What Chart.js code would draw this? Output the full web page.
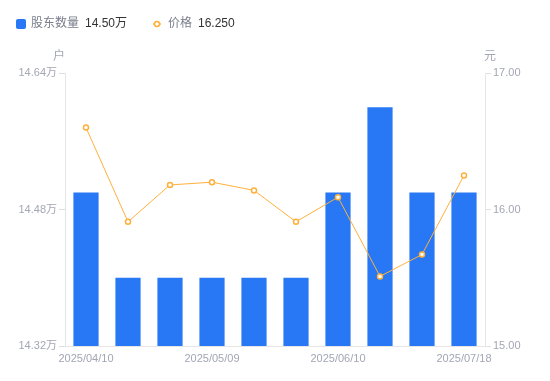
<!DOCTYPE html>
<html>
<head>
<meta charset="utf-8">
<script src="https://cdn.jsdelivr.net/npm/chart.js@4/dist/chart.umd.min.js"></script>
<style>
  html, body { margin: 0; padding: 0; background: #fff; }
  #wrap { position: relative; width: 550px; height: 381px; }
</style>
</head>
<body>
<div id="wrap"><canvas id="grafico" width="550" height="381"></canvas></div>
<script>
// dados do gráfico
const datas = ['2025/04/10', '2025/04/18', '2025/04/30', '2025/05/09', '2025/05/20',
               '2025/05/30', '2025/06/10', '2025/06/20', '2025/06/30', '2025/07/18'];
const acionistas = [14.50, 14.40, 14.40, 14.40, 14.40, 14.40, 14.50, 14.60, 14.50, 14.50]; // 万户
const precos = [16.60, 15.91, 16.18, 16.20, 16.14, 15.91, 16.09, 15.51, 15.67, 16.25];
const ticksEsq = [14.32, 14.48, 14.64];
const ticksDir = [15, 16, 17];
const rotuloIdx = [0, 3, 6, 9];

const azul = '#2878f5';
const laranja = '#ffb03c';
const cinza = '#a3a6b4';
const fonte = '"Liberation Sans", "Noto Sans CJK SC", sans-serif';

// legenda + títulos dos eixos desenhados à mão
const extras = {
  id: 'extras',
  afterDraw(chart) {
    const c = chart.ctx;
    c.save();
    c.textBaseline = 'middle';
    c.font = '12px ' + fonte;
    // legenda
    c.fillStyle = azul;
    c.beginPath();
    c.roundRect(16, 19, 10, 10, 2);
    c.fill();
    c.fillStyle = '#7a7e8c';
    c.fillText('股东数量', 31, 24);
    c.fillStyle = '#333';
    c.fillText(acionistas[acionistas.length - 1].toFixed(2) + '万', 85, 24);
    c.strokeStyle = laranja;
    c.lineWidth = 1.5;
    c.beginPath();
    c.moveTo(153, 24); c.lineTo(161, 24); c.stroke();
    c.fillStyle = '#fff';
    c.beginPath(); c.arc(157, 24, 2.5, 0, Math.PI * 2); c.fill(); c.stroke();
    c.fillStyle = '#7a7e8c';
    c.fillText('价格', 168, 24);
    c.fillStyle = '#333';
    c.fillText(precos[precos.length - 1].toFixed(3), 198, 24);
    // títulos dos eixos
    c.fillStyle = cinza;
    c.textAlign = 'center';
    c.fillText('户', 59, 57);
    c.fillText('元', 490, 57);
    c.restore();
  }
};

const ctx = document.getElementById('grafico').getContext('2d');
new Chart(ctx, {
  data: {
    labels: datas,
    datasets: [
      {
        type: 'line',
        label: '价格',
        data: precos,
        yAxisID: 'y1',
        borderColor: laranja,
        borderWidth: 1,
        pointRadius: 2.5,
        pointBorderWidth: 1.5,
        pointBackgroundColor: '#fff',
        pointBorderColor: laranja,
        tension: 0,
        order: 0
      },
      {
        type: 'bar',
        label: '股东数量',
        data: acionistas,
        yAxisID: 'y',
        backgroundColor: azul,
        barPercentage: 0.6,
        categoryPercentage: 1,
        order: 1
      }
    ]
  },
  options: {
    responsive: false,
    animation: false,
    layout: { padding: { top: 73, left: 0, right: 0, bottom: 0 } },
    plugins: { legend: { display: false }, tooltip: { enabled: false } },
    scales: {
      x: {
        offset: true,
        afterFit: s => { s.height = 35; },
        grid: { display: false },
        border: { color: '#e6e6e6' },
        ticks: {
          autoSkip: false,
          maxRotation: 0,
          color: cinza,
          font: { size: 11, family: fonte },
          padding: -2,
          callback: (v, i) => rotuloIdx.includes(i) ? datas[i] : ''
        }
      },
      y: {
        position: 'left',
        min: 14.32,
        max: 14.64,
        afterFit: s => { s.width = 65; },
        afterBuildTicks: s => { s.ticks = ticksEsq.map(v => ({ value: v })); },
        grid: { drawOnChartArea: false, color: '#e0e0e0', tickLength: 6 },
        border: { color: '#e6e6e6' },
        ticks: {
          color: cinza,
          font: { size: 11, family: fonte },
          padding: 2,
          callback: v => v.toFixed(2) + '万'
        }
      },
      y1: {
        position: 'right',
        min: 15,
        max: 17,
        afterFit: s => { s.width = 65; },
        afterBuildTicks: s => { s.ticks = ticksDir.map(v => ({ value: v })); },
        grid: { drawOnChartArea: false, color: '#e0e0e0', tickLength: 6 },
        border: { color: '#e6e6e6' },
        ticks: {
          color: cinza,
          font: { size: 11, family: fonte },
          padding: 2,
          callback: v => v.toFixed(2)
        }
      }
    }
  },
  plugins: [extras]
});
</script>
</body>
</html>
